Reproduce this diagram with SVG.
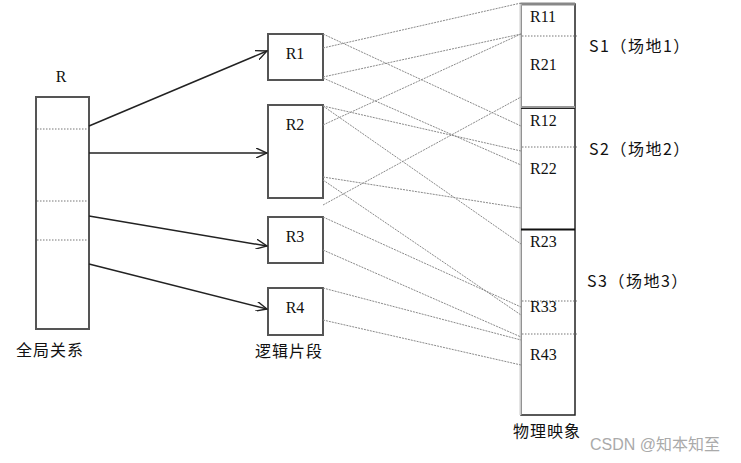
<svg xmlns="http://www.w3.org/2000/svg" width="741" height="463" viewBox="0 0 741 463">
<style>
.box{fill:#fff;stroke:#555;stroke-width:2}
.lat{font-family:"Liberation Serif",serif;font-size:16px;fill:#111}
.cn{font-family:"Noto Sans CJK SC","Noto Sans CJK JP",sans-serif;font-size:16px;fill:#111}
.site{letter-spacing:1.5px}
.div{stroke:#777;stroke-width:1;stroke-dasharray:1.5 1.5}
.map{stroke:#8a8a8a;stroke-width:1;stroke-dasharray:2 1;fill:none}
.arr{stroke:#222;stroke-width:1.5;fill:none;marker-end:url(#open)}
</style>
<defs>
<marker id="open" viewBox="0 0 12 10" refX="11" refY="5" markerWidth="12" markerHeight="10" markerUnits="userSpaceOnUse" orient="auto">
<path d="M0,0 L11,5 L0,10" fill="none" stroke="#222" stroke-width="1.4"/>
</marker>
</defs>
<rect width="741" height="463" fill="#fff"/>

<g id="global-R">
<rect class="box" x="36" y="97" width="53" height="232"/>
<line class="div" x1="37" y1="129" x2="88" y2="129"/>
<line class="div" x1="37" y1="201" x2="88" y2="201"/>
<line class="div" x1="37" y1="240" x2="88" y2="240"/>
<text class="lat" x="61" y="82" text-anchor="middle">R</text>
<text class="cn" x="50" y="356" text-anchor="middle" font-size="17" letter-spacing="1">全局关系</text>
</g>

<g id="R1"><rect class="box" x="268" y="34" width="55" height="46"/><text class="lat" x="295" y="59" text-anchor="middle">R1</text></g>
<g id="R2"><rect class="box" x="268" y="105" width="55" height="93"/><text class="lat" x="295" y="130" text-anchor="middle">R2</text></g>
<g id="R3"><rect class="box" x="268" y="217" width="55" height="46"/><text class="lat" x="295" y="242" text-anchor="middle">R3</text></g>
<g id="R4"><rect class="box" x="268" y="288" width="55" height="47"/><text class="lat" x="295" y="313" text-anchor="middle">R4</text></g>
<g id="logic-label"><text class="cn" x="289" y="357" text-anchor="middle" font-size="17" letter-spacing="1">逻辑片段</text></g>

<g id="physical">
<rect x="521" y="4" width="54" height="411" fill="#fff" stroke="#222" stroke-width="1.5"/>
<line x1="521" y1="4" x2="575" y2="4" stroke="#888" stroke-width="3"/>
<line x1="520.5" y1="4" x2="520.5" y2="415" stroke="#ccc" stroke-width="2"/>
<line x1="521" y1="107" x2="575" y2="107" stroke="#999" stroke-width="2"/>
<line x1="521" y1="108.5" x2="575" y2="108.5" stroke="#222" stroke-width="1"/>
<line x1="521" y1="229.5" x2="575" y2="229.5" stroke="#111" stroke-width="2"/>
<line class="div" x1="522" y1="36" x2="577" y2="36"/>
<line class="div" x1="522" y1="147" x2="577" y2="147"/>
<line class="div" x1="522" y1="301" x2="577" y2="301"/>
<line class="div" x1="522" y1="334" x2="577" y2="334"/>
<text class="lat" x="530" y="22">R11</text>
<text class="lat" x="530" y="70">R21</text>
<text class="lat" x="530" y="126">R12</text>
<text class="lat" x="530" y="174">R22</text>
<text class="lat" x="530" y="247">R23</text>
<text class="lat" x="530" y="312">R33</text>
<text class="lat" x="530" y="360">R43</text>
<text class="cn" x="513" y="437" font-size="17" letter-spacing="1">物理映象</text>
</g>

<g id="sites">
<text class="cn site" x="589" y="52">S1（场地1）</text>
<text class="cn site" x="589" y="155">S2（场地2）</text>
<text class="cn site" x="587" y="287">S3（场地3）</text>
</g>

<g id="connectors">
<line class="arr" x1="89" y1="126" x2="267" y2="51"/>
<line class="arr" x1="89" y1="153" x2="267" y2="153"/>
<line class="arr" x1="89" y1="216" x2="267" y2="246"/>
<line class="arr" x1="89" y1="264" x2="267" y2="309"/>
<line class="map" x1="323" y1="34" x2="521" y2="126"/>
<line class="map" x1="323" y1="48" x2="521" y2="3"/>
<line class="map" x1="323" y1="77" x2="521" y2="34"/>
<line class="map" x1="323" y1="78" x2="521" y2="165"/>
<line class="map" x1="323" y1="106" x2="521" y2="151"/>
<line class="map" x1="323" y1="106" x2="521" y2="244"/>
<line class="map" x1="323" y1="125" x2="521" y2="34"/>
<line class="map" x1="323" y1="177" x2="521" y2="208"/>
<line class="map" x1="323" y1="180" x2="521" y2="315"/>
<line class="map" x1="323" y1="205" x2="521" y2="97"/>
<line class="map" x1="323" y1="217" x2="521" y2="307"/>
<line class="map" x1="323" y1="250" x2="521" y2="337"/>
<line class="map" x1="323" y1="288" x2="521" y2="340"/>
<line class="map" x1="323" y1="320" x2="521" y2="365"/>
</g>

<text x="590" y="450" font-family="'Liberation Sans','Noto Sans CJK SC',sans-serif" font-size="16" fill="#aaa">CSDN @知本知至</text>
</svg>
